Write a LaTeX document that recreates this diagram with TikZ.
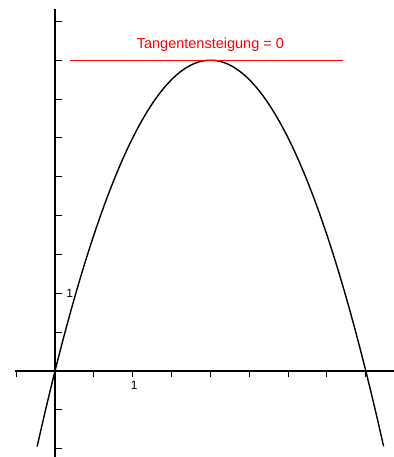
\documentclass[tikz,border=0pt]{standalone}
\usepackage{fontspec}
\setmainfont{Liberation Sans}
\usepackage{tikz}
\usetikzlibrary{positioning,calc}
\definecolor{tangentRed}{HTML}{FF0000}

\begin{document}
\begin{tikzpicture}[x=77.7pt, y=77.7pt,
    axisStyle/.style={line width=1.2pt, draw=black},
    tickStyle/.style={line width=1.1pt, draw=black},
    curveStyle/.style={line width=1.4pt, draw=black},
    tangentStyle/.style={line width=1.3pt, draw=tangentRed},
    tickLabel/.style={font=\fontsize{12}{12}\selectfont, inner sep=0pt}
]
    \useasboundingbox (-0.708,-1.107) rectangle (4.363,4.775);

    % Achsen
    \coordinate (xStart) at (-0.515,0);
    \coordinate (xEnd) at (4.363,0);
    \coordinate (yStart) at (0,-1.107);
    \coordinate (yEnd) at (0,4.66);
    \draw[axisStyle] (xStart) -- (xEnd);
    \draw[axisStyle] (yStart) -- (yEnd);
    \foreach \x in {-0.5,0.5,1,...,4} \draw[tickStyle] (\x,0) -- ++(0,-0.08);
    \foreach \y in {-1,-0.5,0.5,1,...,4.5} \draw[tickStyle] (0,\y) -- ++(0.09,0);
    \node[tickLabel] (xOne) at (1.02,-0.19) {1};
    \node[tickLabel] (yOne) at (0.19,1.0) {1};

    % Parabel
    \draw[curveStyle] plot[domain=-0.23:4.23, samples=120, smooth] (\x, {\x*(4-\x)});

    % Tangente im Scheitelpunkt
    \coordinate (tanLeft) at (0.19,4);
    \coordinate (tanRight) at (3.71,4);
    \draw[tangentStyle] (tanLeft) -- (tanRight);
    \node[text=tangentRed, font=\fontsize{14.5}{14.5}\selectfont, inner sep=0pt] (tanLabel) at (2.0,4.196) {Tangentensteigung = 0};
\end{tikzpicture}
\end{document}
